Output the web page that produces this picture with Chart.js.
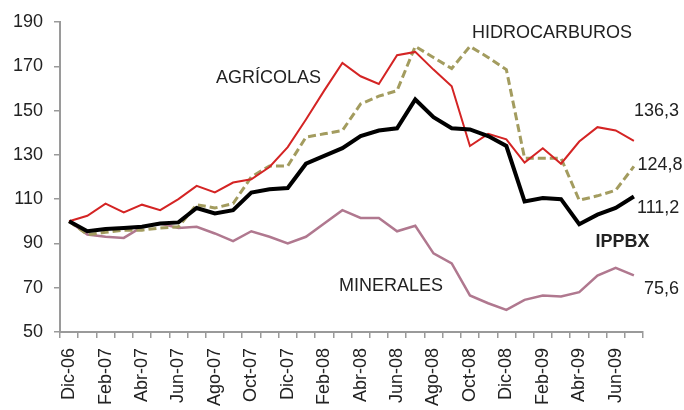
<!DOCTYPE html>
<html>
<head>
<meta charset="utf-8">
<script src="https://cdn.jsdelivr.net/npm/chart.js@4.4.1/dist/chart.umd.min.js"></script>
<style>
  html, body { margin: 0; padding: 0; background: #fff; overflow: hidden; }
  #grafico { display: block; }
</style>
</head>
<body>
<canvas id="grafico" width="684" height="440"></canvas>
<script>
/* MESES (Dic-06 a Jul-09) */
const meses = ["Dic-06", "Ene-07", "Feb-07", "Mar-07", "Abr-07", "May-07", "Jun-07", "Jul-07",
    "Ago-07", "Sep-07", "Oct-07", "Nov-07", "Dic-07", "Ene-08", "Feb-08", "Mar-08",
    "Abr-08", "May-08", "Jun-08", "Jul-08", "Ago-08", "Sep-08", "Oct-08", "Nov-08",
    "Dic-08", "Ene-09", "Feb-09", "Mar-09", "Abr-09", "May-09", "Jun-09", "Jul-09"]

/* INDICES (base Dic-06 = 100) */
const ippbx = [100, 95.5, 96.5, 97, 97.5, 99, 99.5, 106, 103.5, 105, 113, 114.5,
    115, 126, 129.5, 133, 138.5, 141, 142, 155, 147, 142, 141.5, 138.5,
    134, 109, 110.5, 110, 98.7, 103, 106, 111.2]
const agricolas = [100, 102.5, 108, 104, 107.5, 105, 110, 116, 113, 117.5, 119, 124.5,
    133.5, 146, 159, 171.5, 165.5, 162, 175, 176.5, 168.5, 161, 134, 139.5,
    137, 126.5, 133, 126, 136, 142.5, 141, 136.3]
const hidrocarburos = [100, 94, 95, 96, 96, 97, 97.5, 107.5, 106, 108, 120, 125,
    125, 138, 139.5, 141, 153, 156.5, 159, 179, 174, 169, 179, 174,
    168.5, 128.5, 128.5, 128.5, 109.5, 111.5, 114, 124.8]
const minerales = [100, 94, 93, 92.5, 97.5, 99, 97, 97.5, 94.5, 91, 95.5, 93,
    90, 93, 99, 105, 101.5, 101.5, 95.5, 98, 85.5, 81, 66.5, 63,
    60, 64.5, 66.5, 66, 68, 75.5, 79, 75.6]

/* EJE Y */
const ejeYMin = 50
const ejeYMax = 190
const ejeYPaso = 20

/* TEXTOS SOBRE EL GRAFICO: [texto, mes (indice), valor, alineacion, negrita] */
const textos = [
    ["AGRÍCOLAS", 10.95, 164.5, "center", false],
    ["HIDROCARBUROS", 26.5, 184.8, "center", false],
    ["MINERALES", 17.67, 70.8, "center", false],
    ["IPPBX", 30.37, 90.7, "center", true],
    ["136,3", 31.0, 150, "left", false],
    ["124,8", 31.2, 125.6, "left", false],
    ["111,2", 31.17, 106.1, "left", false],
    ["75,6", 31.55, 69.5, "left", false]
]

const fuente = "'Liberation Sans', Arial, sans-serif"
const colorEje = "#9a9a9a"
const colorTexto = "#222"

let ctx = document.getElementById("grafico").getContext("2d")

// escribe los nombres de las series y los valores finales
const pluginTextos = {
    id: "textos",
    afterDatasetsDraw(chart) {
        let c = chart.ctx
        let x = chart.scales.x
        let y = chart.scales.y
        c.save()
        c.fillStyle = colorTexto
        c.textBaseline = "middle"
        for (let i = 0; i < textos.length; i++) {
            let t = textos[i]
            c.font = (t[4] ? "bold " : "") + "18px " + fuente
            c.textAlign = t[3]
            c.fillText(t[0], x.getPixelForValue(t[1]), y.getPixelForValue(t[2]))
        }
        c.restore()
    }
}

function serie(nombre, datos, color, ancho, guiones) {
    return {
        label: nombre,
        data: datos,
        borderColor: color,
        backgroundColor: color,
        borderWidth: ancho,
        borderDash: guiones,
        pointRadius: 0,
        tension: 0,
        fill: false
    }
}

let chart = new Chart(ctx, {
    type: "line",
    data: {
        labels: meses,
        datasets: [
            serie("IPPBX", ippbx, "#000000", 4, []),
            serie("AGRÍCOLAS", agricolas, "#d42424", 2, []),
            serie("HIDROCARBUROS", hidrocarburos, "#a39c5f", 3, [8, 4]),
            serie("MINERALES", minerales, "#b0788f", 2.5, [])
        ]
    },
    options: {
        responsive: false,
        animation: false,
        layout: { padding: { top: 22, right: 41, bottom: 0, left: 0 } },
        plugins: {
            legend: { display: false },
            tooltip: { enabled: false }
        },
        scales: {
            x: {
                offset: true,
                afterFit: (s) => { s.height = 108 },
                border: { color: colorEje, width: 2 },
                grid: { offset: true, drawOnChartArea: false, color: colorEje, lineWidth: 1.5, tickLength: 6 },
                ticks: {
                    autoSkip: false,
                    minRotation: 90,
                    maxRotation: 90,
                    padding: 10,
                    color: colorTexto,
                    font: { family: fuente, size: 18 },
                    callback: function (v, i) { return i % 2 == 0 ? meses[i] : "" }
                }
            },
            y: {
                min: ejeYMin,
                max: ejeYMax,
                afterFit: (s) => { s.width = 60 },
                border: { color: colorEje, width: 2 },
                grid: { drawOnChartArea: false, color: colorEje, lineWidth: 1.5, tickLength: 6 },
                ticks: {
                    stepSize: ejeYPaso,
                    padding: 11,
                    color: colorTexto,
                    font: { family: fuente, size: 18 }
                }
            }
        }
    },
    plugins: [pluginTextos]
})
</script>
</body>
</html>
